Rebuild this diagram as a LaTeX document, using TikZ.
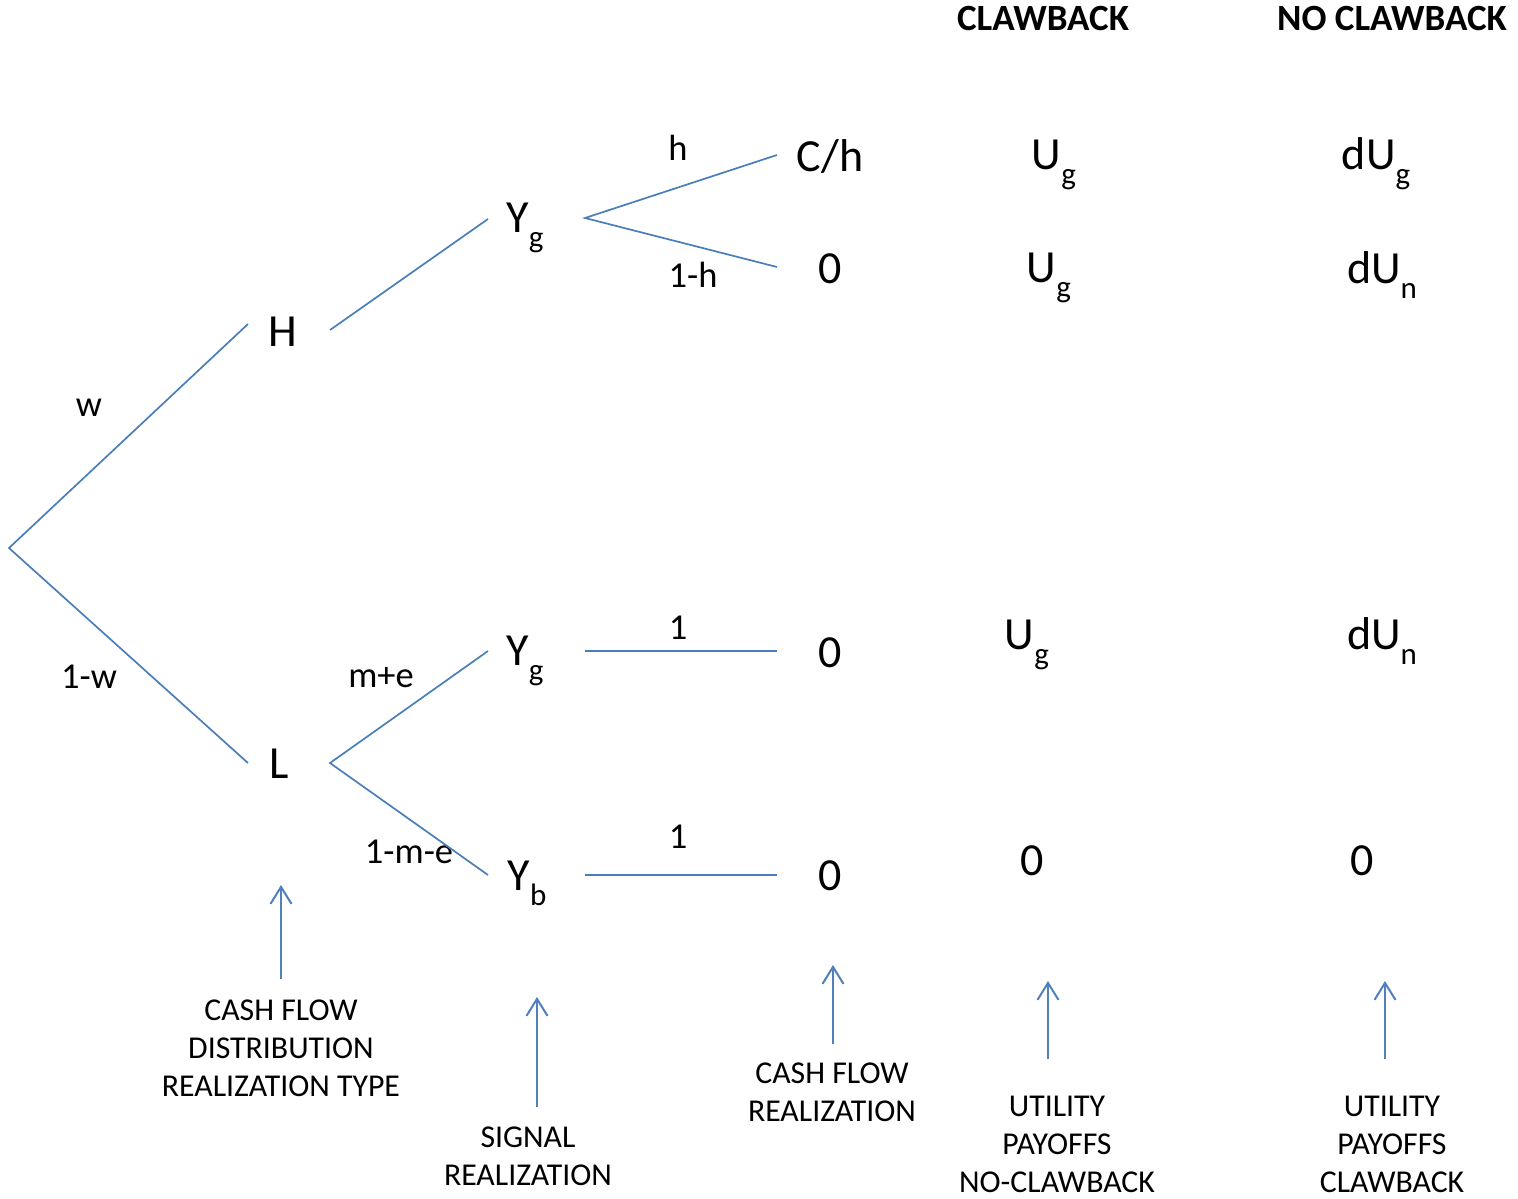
\documentclass[tikz,border=0pt]{standalone}
\usepackage{fontspec}
\setmainfont{Carlito}
\usetikzlibrary{arrows.meta}
\definecolor{treeblue}{HTML}{4A7EBB}
\definecolor{arrowblue}{HTML}{4F81BD}
\newcommand{\dsb}[1]{\raisebox{-15pt}{\fontsize{31}{31}\selectfont #1}}
\tikzset{
  big/.style={anchor=base, inner sep=0pt, font=\fontsize{46}{46}\selectfont},
  lab/.style={anchor=base, inner sep=0pt, font=\fontsize{36.5}{36.5}\selectfont},
  head/.style={anchor=base, inner sep=0pt, font=\fontsize{37}{37}\selectfont\bfseries},
  note/.style={anchor=base, inner sep=0pt, font=\fontsize{31.8}{38}\selectfont},
  branch/.style={draw=treeblue, line width=1.7pt},
  pointer/.style={draw=arrowblue, line width=2.3pt, -{Straight Barb[length=17pt,width=21pt,line width=2pt]}}
}
\begin{document}
\begin{tikzpicture}[x=1pt, y=-1pt]
\useasboundingbox (0,0) rectangle (1518,1199);
\fill[white] (0,0) rectangle (1518,1199);

% headers
\node[head] (hcl) at (1043,31) {CLAWBACK};
\node[head] (hncl) at (1392,31) {NO CLAWBACK};

% tree nodes
\node[big] (H) at (283,346) {H};
\node[big] (L) at (279,778) {L};
\node[big] (Yg1) at (525,232) {Y\dsb{g}};
\node[big] (Yg2) at (525,665) {Y\dsb{g}};
\node[big] (Yb) at (527,890) {Y\dsb{b}};
\node[big] (Ch) at (830,171) {C/h};
\node[big] (z1) at (830,283) {0};
\node[big] (z2) at (830,667) {0};
\node[big] (z3) at (830,890) {0};

% payoffs
\node[big] (c1) at (1054,169) {U\dsb{g}};
\node[big] (c2) at (1049,282) {U\dsb{g}};
\node[big] (c3) at (1027,649) {U\dsb{g}};
\node[big] (c4) at (1032,875) {0};
\node[big] (n1) at (1376,169) {dU\dsb{g}};
\node[big] (n2) at (1382,283) {dU\dsb{n}};
\node[big] (n3) at (1382,649) {dU\dsb{n}};
\node[big] (n4) at (1362,875) {0};

% branch labels
\node[lab] (lw) at (89,416) {w};
\node[lab] (l1w) at (89,688) {1-w};
\node[lab] (lh) at (678,160) {h};
\node[lab] (l1h) at (693,287) {1-h};
\node[lab] (lme) at (381,687) {m+e};
\node[lab] (l1me) at (409,863) {1-m-e};
\node[lab] (lo1) at (678,639) {1};
\node[lab] (lo2) at (678,848) {1};

% branch end points
\coordinate (root) at (9,548);
\coordinate (Hin) at (248,324);
\coordinate (Lin) at (248,763);
\coordinate (Hout) at (330,330);
\coordinate (Yg1in) at (488,219);
\coordinate (Lout) at (330,763);
\coordinate (Yg2in) at (488,651);
\coordinate (Ybin) at (488,875);
\coordinate (Yg1out) at (585,218);
\coordinate (Chin) at (777,155);
\coordinate (z1in) at (777,267);
\coordinate (Yg2out) at (585,651);
\coordinate (z2in) at (777,651);
\coordinate (Ybout) at (585,875);
\coordinate (z3in) at (777,875);

\draw[branch] (Hin) -- (root) -- (Lin);
\draw[branch] (Hout) -- (Yg1in);
\draw[branch] (Yg2in) -- (Lout) -- (Ybin);
\draw[branch] (Chin) -- (Yg1out) -- (z1in);
\draw[branch] (Yg2out) -- (z2in);
\draw[branch] (Ybout) -- (z3in);

% bottom annotations
\node[note] (a1) at (281,1020) {CASH FLOW};
\node[note] (a2) at (281,1058) {DISTRIBUTION};
\node[note] (a3) at (281,1096) {REALIZATION TYPE};
\node[note] (b1) at (528,1147) {SIGNAL};
\node[note] (b2) at (528,1185) {REALIZATION};
\node[note] (d1) at (832,1083) {CASH FLOW};
\node[note] (d2) at (832,1121) {REALIZATION};
\node[note] (e1) at (1057,1116) {UTILITY};
\node[note] (e2) at (1057,1154) {PAYOFFS};
\node[note] (e3) at (1057,1192) {NO-CLAWBACK};
\node[note] (f1) at (1392,1116) {UTILITY};
\node[note] (f2) at (1392,1154) {PAYOFFS};
\node[note] (f3) at (1392,1192) {CLAWBACK};

\coordinate (pa0) at (281,979); \coordinate (pa1) at (281,885);
\coordinate (pb0) at (537,1107); \coordinate (pb1) at (537,997);
\coordinate (pd0) at (833,1044); \coordinate (pd1) at (833,965);
\coordinate (pe0) at (1048,1059); \coordinate (pe1) at (1048,981);
\coordinate (pf0) at (1385,1059); \coordinate (pf1) at (1385,981);
\draw[pointer] (pa0) -- (pa1);
\draw[pointer] (pb0) -- (pb1);
\draw[pointer] (pd0) -- (pd1);
\draw[pointer] (pe0) -- (pe1);
\draw[pointer] (pf0) -- (pf1);
\end{tikzpicture}
\end{document}
